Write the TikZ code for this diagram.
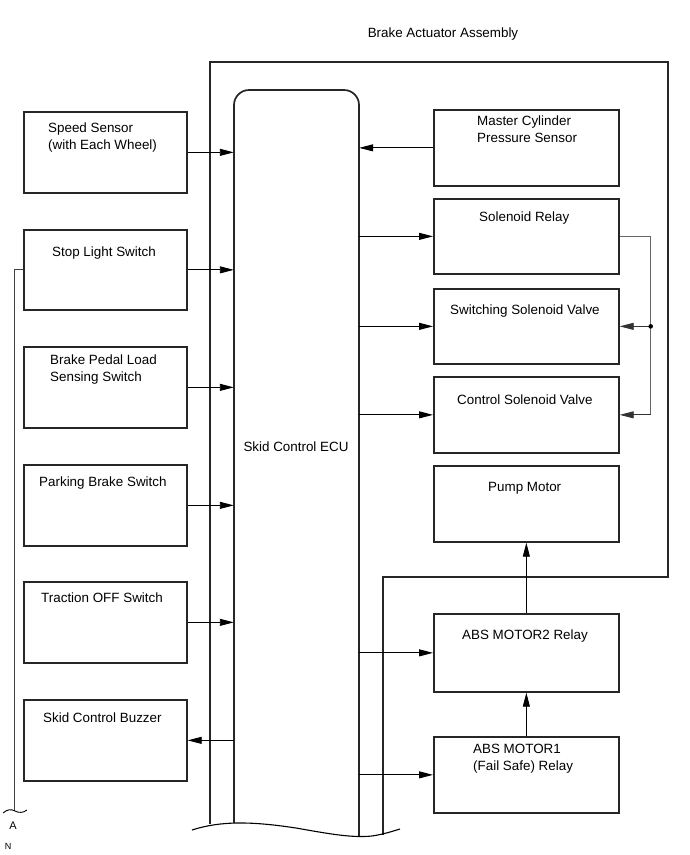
\documentclass[tikz,border=0pt]{standalone}
\usepackage{fontspec}
\setmainfont{Liberation Sans}
\usetikzlibrary{arrows.meta,calc}
\begin{document}
\begin{tikzpicture}[x=1pt,y=-1pt,
  box/.style={draw=black!85,line width=1.7pt,minimum width=163pt,minimum height=81pt,anchor=north west,inner sep=0pt},
  rbox/.style={box,minimum width=185pt,minimum height=76pt},
  txt/.style={anchor=north west,align=left,inner sep=0pt,font=\fontsize{13.4}{16.5}\selectfont},
  sig/.style={-{Triangle[length=14pt,width=7pt]},line width=0.9pt}]
\useasboundingbox (0,0) rectangle (690,855);

\node[txt,anchor=center] (title) at (443,34) {Brake Actuator Assembly};
\draw[line width=1.7pt,black!85] (210,824) -- (210,62) -- (668,62) -- (668,577) -- (383,577) -- (383,835);
\draw[line width=1.7pt,black!85,rounded corners=15pt] (234,823) -- (234,90) -- (359,90) -- (359,836);
\draw[line width=1.1pt] (192,830) .. controls (220,821) and (250,821) .. (296,828) .. controls (330,834) and (352,838) .. (372,836) .. controls (385,834) and (393,831) .. (400,829);
\node[minimum width=125pt,minimum height=740pt,inner sep=0pt] (ecu) at (296.5,460) {};
\node[txt,anchor=center] at (296,447) {Skid Control ECU};

\node[box] (ss) at (23,111) {};
\node[box,minimum height=80pt] (sls) at (23,229) {};
\node[box] (bpl) at (23,346) {};
\node[box] (pbs) at (23,464) {};
\node[box] (tos) at (23,581) {};
\node[box] (scb) at (23,699) {};
\node[txt] at (48,123) {Speed Sensor\\(with Each Wheel)};
\node[txt] at (52,247) {Stop Light Switch};
\node[txt] at (50,355) {Brake Pedal Load\\Sensing Switch};
\node[txt] at (39,477) {Parking Brake Switch};
\node[txt] at (41,593) {Traction OFF Switch};
\node[txt] at (43,713) {Skid Control Buzzer};

\node[rbox] (mcp) at (433,109) {};
\node[rbox,minimum height=75pt] (sr) at (433,198) {};
\node[rbox,minimum height=75pt] (ssv) at (433,288) {};
\node[rbox] (csv) at (433,376) {};
\node[rbox] (pm) at (433,465) {};
\node[rbox,minimum height=78pt] (m2) at (433,613) {};
\node[rbox] (m1) at (433,736) {};
\node[txt] at (477,116) {Master Cylinder\\Pressure Sensor};
\node[txt] at (479,212) {Solenoid Relay};
\node[txt] at (450,305) {Switching Solenoid Valve};
\node[txt] at (457,395) {Control Solenoid Valve};
\node[txt] at (488,482) {Pump Motor};
\node[txt] at (462,630) {ABS MOTOR2 Relay};
\node[txt] at (473,744) {ABS MOTOR1\\(Fail Safe) Relay};

\foreach \b in {ss,sls,bpl,pbs,tos}
  \draw[sig] (\b.east) -- (\b.east -| ecu.west);
\draw[sig] (scb.east -| ecu.west) -- (scb.east);
\draw[sig] (mcp.west) -- (mcp.west -| ecu.east);
\foreach \b in {sr,ssv,csv,m2,m1}
  \draw[sig] (\b.west -| ecu.east) -- (\b.west);
\draw[sig] (m1.north) -- (m2.south);
\draw[sig] (m2.north) -- (pm.south);

\coordinate (jt) at ($(sr.east)+(31,0)$);
\draw[black!60,line width=0.9pt] (sr.east) -- (jt) -- (jt |- csv.east);
\draw[sig,black!80] (jt |- ssv.east) -- (ssv.east);
\draw[sig,black!80] (jt |- csv.east) -- (csv.east);
\fill (jt |- ssv.east) circle (2.3pt);

\coordinate (aend) at (14,811);
\draw[black!75,line width=0.9pt] (sls.west) -- (sls.west -| aend) -- (aend);
\draw[line width=0.9pt] (3,813) .. controls (8,809) and (11,809) .. (15,811) .. controls (19,813) and (23,813) .. (27,810);
\node[font=\fontsize{11}{13}\selectfont,inner sep=0pt] (a) at (13,826) {A};
\node[font=\fontsize{9}{11}\selectfont,inner sep=0pt] (n) at (8,846) {N};
\end{tikzpicture}
\end{document}
